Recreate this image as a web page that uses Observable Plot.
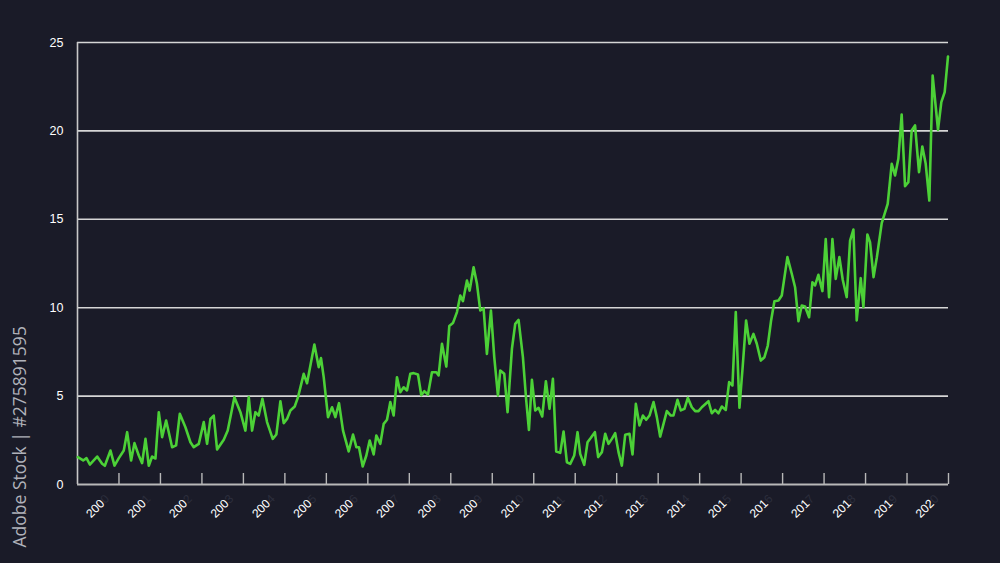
<!DOCTYPE html>
<html>
<head>
<meta charset="utf-8">
<script src="https://cdn.jsdelivr.net/npm/d3@7"></script>
<script src="https://cdn.jsdelivr.net/npm/@observablehq/plot@0.6"></script>
<style>
  html, body { margin: 0; padding: 0; background: #1a1b28; }
  #chart { width: 1000px; height: 563px; overflow: hidden; }
</style>
</head>
<body>
<div id="chart"></div>
<script>
// Decimal-year positions of the line's vertices
const dates = [
  2000.008, 2000.137, 2000.217, 2000.297, 2000.474, 2000.594, 2000.659, 2000.795, 2000.892, 2000.996,
  2001.116, 2001.197, 2001.293, 2001.373, 2001.478, 2001.558, 2001.639, 2001.719, 2001.799, 2001.880, 2001.960,
  2002.040, 2002.137, 2002.281, 2002.378, 2002.466, 2002.602, 2002.723, 2002.803, 2002.924,
  2003.044, 2003.124, 2003.205, 2003.285, 2003.365, 2003.526, 2003.622, 2003.783, 2003.928,
  2004.048, 2004.129, 2004.209, 2004.289, 2004.369, 2004.458, 2004.570, 2004.707, 2004.795, 2004.892, 2004.972,
  2005.052, 2005.133, 2005.237, 2005.317, 2005.454, 2005.534, 2005.711, 2005.815, 2005.871, 2005.936,
  2006.040, 2006.137, 2006.217, 2006.305, 2006.402, 2006.538, 2006.643, 2006.723, 2006.787, 2006.876, 2006.964,
  2007.044, 2007.141, 2007.205, 2007.301, 2007.382, 2007.462, 2007.542, 2007.622, 2007.703, 2007.783, 2007.863, 2007.944,
  2008.024, 2008.104, 2008.209, 2008.289, 2008.361, 2008.450, 2008.546, 2008.651, 2008.707, 2008.787, 2008.892, 2008.964,
  2009.052, 2009.149, 2009.229, 2009.293, 2009.390, 2009.454, 2009.550, 2009.631, 2009.711, 2009.791, 2009.871, 2009.968,
  2010.048, 2010.137, 2010.193, 2010.289, 2010.369, 2010.474, 2010.554, 2010.634, 2010.739, 2010.819, 2010.884, 2010.956,
  2011.036, 2011.116, 2011.205, 2011.293, 2011.381, 2011.462, 2011.542, 2011.639, 2011.719, 2011.799, 2011.880, 2011.976,
  2012.056, 2012.120, 2012.217, 2012.297, 2012.378, 2012.474, 2012.554, 2012.643, 2012.723, 2012.803, 2012.884, 2012.964,
  2013.044, 2013.124, 2013.205, 2013.309, 2013.382, 2013.462, 2013.550, 2013.631, 2013.711, 2013.791, 2013.888, 2013.968,
  2014.048, 2014.129, 2014.209, 2014.305, 2014.369, 2014.466, 2014.546, 2014.634, 2014.715, 2014.811, 2014.892, 2014.972,
  2015.052, 2015.213, 2015.293, 2015.373, 2015.454, 2015.534, 2015.631, 2015.711, 2015.791, 2015.871, 2015.960,
  2016.040, 2016.120, 2016.201, 2016.297, 2016.378, 2016.474, 2016.562, 2016.643, 2016.723, 2016.803, 2016.900, 2016.980,
  2017.116, 2017.221, 2017.301, 2017.382, 2017.462, 2017.542, 2017.639, 2017.719, 2017.783, 2017.863, 2017.960,
  2018.040, 2018.120, 2018.201, 2018.281, 2018.369, 2018.450, 2018.546, 2018.627, 2018.707, 2018.787, 2018.884, 2018.948,
  2019.044, 2019.108, 2019.193, 2019.273, 2019.390, 2019.534, 2019.631, 2019.711, 2019.791, 2019.871, 2019.952,
  2020.032, 2020.112, 2020.193, 2020.289, 2020.369, 2020.450, 2020.538, 2020.618, 2020.747, 2020.827, 2020.908, 2020.988
];

const values = [
  1.55, 1.36, 1.49, 1.13, 1.58, 1.17, 1.06, 1.92, 1.07, 1.49,
  1.92, 2.96, 1.36, 2.34, 1.64, 1.21, 2.58, 1.06, 1.58, 1.47, 4.09,
  2.68, 3.62, 2.11, 2.21, 4.00, 3.24, 2.39, 2.11, 2.30,
  3.53, 2.30, 3.71, 3.90, 1.98, 2.53, 3.05, 4.94, 4.09,
  3.05, 4.94, 3.05, 4.09, 3.90, 4.85, 3.53, 2.58, 2.83, 4.71, 3.47,
  3.71, 4.19, 4.41, 4.94, 6.26, 5.73, 7.92, 6.64, 7.15, 6.07,
  3.81, 4.37, 3.81, 4.60, 3.05, 1.87, 2.83, 2.11, 2.11, 1.02, 1.64,
  2.49, 1.70, 2.77, 2.30, 3.43, 3.66, 4.66, 3.90, 6.07, 5.22, 5.50, 5.32,
  6.26, 6.30, 6.22, 5.05, 5.28, 5.09, 6.35, 6.35, 6.17, 7.96, 6.67, 8.96,
  9.13, 9.75, 10.69, 10.37, 11.54, 10.97, 12.29, 11.35, 9.84, 9.97, 7.39, 9.84,
  7.20, 5.03, 6.45, 6.26, 4.09, 7.67, 9.09, 9.31, 7.20, 4.75, 3.09, 5.92,
  4.19, 4.34, 3.85, 5.84, 4.28, 5.98, 1.87, 1.79, 3.00, 1.26, 1.17, 1.64,
  2.96, 1.73, 1.11, 2.39, 2.64, 2.96, 1.55, 1.83, 2.87, 2.30, 2.58, 2.90,
  1.83, 1.07, 2.81, 2.87, 1.70, 4.56, 3.34, 3.90, 3.66, 3.90, 4.66, 3.81,
  2.71, 3.43, 4.15, 3.90, 3.90, 4.79, 4.19, 4.28, 4.90, 4.37, 4.15, 4.15,
  4.37, 4.71, 4.03, 4.22, 4.03, 4.41, 4.22, 5.79, 5.60, 9.75, 4.34,
  6.73, 9.28, 7.96, 8.52, 7.96, 7.01, 7.20, 7.86, 9.28, 10.37, 10.41, 10.69,
  12.86, 11.92, 11.16, 9.24, 10.12, 10.07, 9.46, 11.44, 11.26, 11.86, 10.94,
  13.88, 10.60, 13.88, 11.63, 12.86, 11.58, 10.60, 13.80, 14.42, 9.28, 11.67, 10.03,
  14.14, 13.71, 11.73, 12.86, 14.78, 15.87, 18.14, 17.48, 18.42, 20.93, 16.87,
  17.10, 20.02, 20.31, 17.67, 19.12, 18.14, 16.06, 23.13, 20.06, 21.63, 22.19, 24.21
];

// Year boundaries where the x-axis ticks sit, and the year label drawn beside each
const tickYears = [2001, 2002, 2003, 2004, 2005, 2006, 2007, 2008, 2009, 2010, 2011,
  2012, 2013, 2014, 2015, 2016, 2017, 2018, 2019, 2020, 2021];
const tickLabels = ["2000", "2001", "2002", "2003", "2004", "2005", "2006", "2007", "2008", "2009", "2010",
  "2011", "2012", "2013", "2014", "2015", "2016", "2017", "2018", "2019", "2020"];
const yTicks = [0, 5, 10, 15, 20, 25];
const gridValues = [5, 10, 15, 20, 25];
const sideNote = "Adobe Stock | #275891595";

const data = dates.map((d, i) => ({date: d, value: values[i]}));
const tickData = tickYears.map((y, i) => ({year: y, label: tickLabels[i], shown: tickLabels[i].slice(0, 3)}));

const chart = Plot.plot({
  width: 1000,
  height: 563,
  marginLeft: 77,
  marginRight: 52,
  marginTop: 42,
  marginBottom: 79,
  style: {
    background: "#1a1b28",
    color: "#ffffff",
    fontFamily: "'Liberation Sans', Arial, Helvetica, sans-serif",
    overflow: "visible"
  },
  x: {domain: [2000, 2021]},
  y: {domain: [0, 25]},
  marks: [
    Plot.gridY(gridValues, {stroke: "#d6d6d6", strokeOpacity: 1, strokeWidth: 1.6}),
    Plot.ruleX([2000], {y1: 0, y2: 25, stroke: "#c8c8c8", strokeWidth: 1.6}),
    Plot.ruleY([0], {stroke: "#b8b8b8", strokeWidth: 1.8}),
    Plot.axisX({ticks: tickYears, tickSize: 11, insetBottom: 11, tickFormat: () => "", label: null, stroke: "#b8b8b8", strokeWidth: 1.4}),
    Plot.axisY({ticks: yTicks, tickSize: 0, tickPadding: 14, fontSize: 12.5, fill: "#ffffff", label: null}),
    Plot.text(tickData, {x: "year", text: "label", frameAnchor: "bottom", rotate: -45, textAnchor: "start",
      dx: -28, dy: 34, fontSize: 12, fill: "#2c2e3c"}),
    Plot.text(tickData, {x: "year", text: "shown", frameAnchor: "bottom", rotate: -45, textAnchor: "start",
      dx: -28, dy: 34, fontSize: 12, fill: "#ffffff"}),
    Plot.line(data, {x: "date", y: "value", stroke: "#4cd137", strokeWidth: 2.6, strokeLinejoin: "round"}),
    Plot.text([sideNote], {frameAnchor: "bottom-left", rotate: -90, textAnchor: "start", dx: -52, dy: 63,
      fontSize: 17.5, fill: "#b0b2ba", fontFamily: "'Open Sans', sans-serif"})
  ]
});

document.getElementById("chart").appendChild(chart);
</script>
</body>
</html>
